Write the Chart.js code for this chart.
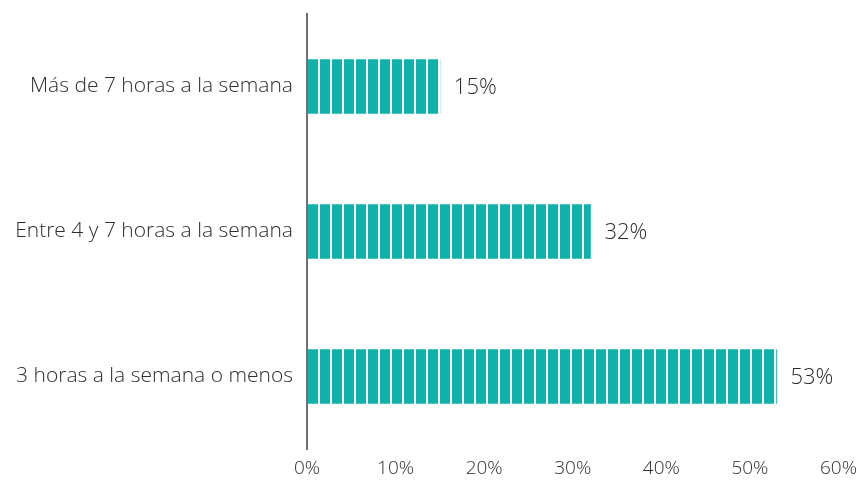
<!DOCTYPE html>
<html>
<head>
<meta charset="utf-8">
<script src="https://cdn.jsdelivr.net/npm/chart.js@4"></script>
<style>
  html, body { margin: 0; padding: 0; background: #fff; }
  #wrap { width: 865px; height: 480px; }
</style>
</head>
<body>
<div id="wrap"><canvas id="hoursChart"></canvas></div>
<script>
// chart data
const categories = ['Más de 7 horas a la semana', 'Entre 4 y 7 horas a la semana', '3 horas a la semana o menos'];
const shares = [15, 32, 53];
const xTicks = [0, 10, 20, 30, 40, 50, 60];

const TEAL = '#0fb2ab';
const TEXT = '#2e2e2e';
const FONT = "'Open Sans', sans-serif";

// striped fill: 10px block + 2px gap, lined up with the axis
function stripePattern(chart) {
  const area = chart.chartArea;
  if (!area) return TEAL;
  const c = document.createElement('canvas');
  c.width = 12;
  c.height = 4;
  const g = c.getContext('2d');
  g.fillStyle = TEAL;
  g.fillRect(0, 0, 10, 4);
  const pattern = chart.ctx.createPattern(c, 'repeat');
  pattern.setTransform(new DOMMatrix().translate(area.left + 1, 0));
  return pattern;
}

const valueLabels = {
  id: 'valueLabels',
  afterDatasetsDraw(chart) {
    const ctx = chart.ctx;
    const meta = chart.getDatasetMeta(0);
    ctx.save();
    ctx.font = '300 22px ' + FONT;
    ctx.fillStyle = TEXT;
    ctx.textAlign = 'left';
    ctx.textBaseline = 'middle';
    meta.data.forEach((bar, i) => {
      ctx.fillText(shares[i] + '%', bar.x + 14, bar.y + 1);
    });
    ctx.restore();
  }
};

new Chart(document.getElementById('hoursChart'), {
  type: 'bar',
  data: {
    labels: categories,
    datasets: [{
      data: shares,
      backgroundColor: (c) => stripePattern(c.chart),
      borderWidth: 0,
      barThickness: 54
    }]
  },
  options: {
    indexAxis: 'y',
    responsive: true,
    maintainAspectRatio: false,
    animation: false,
    layout: { padding: { top: 14, right: 21, bottom: 0, left: 0 } },
    plugins: {
      legend: { display: false },
      tooltip: { enabled: false }
    },
    scales: {
      x: {
        min: 0,
        max: 60,
        afterBuildTicks: (s) => { s.ticks = xTicks.map(v => ({ value: v })); },
        afterFit: (s) => { s.height = 31; },
        grid: { display: false, drawTicks: false },
        border: { display: false },
        ticks: {
          padding: 8,
          color: TEXT,
          font: { family: FONT, size: 19, weight: '300' },
          callback: (v) => v + '%'
        }
      },
      y: {
        afterFit: (s) => { s.width = 307; s.paddingTop = 0; s.paddingBottom = 0; },
        grid: { display: false, drawTicks: false },
        border: { display: true, color: '#707070', width: 2 },
        ticks: {
          padding: 14,
          color: TEXT,
          font: { family: FONT, size: 21, weight: '300' }
        }
      }
    }
  },
  plugins: [valueLabels]
});
</script>
</body>
</html>
